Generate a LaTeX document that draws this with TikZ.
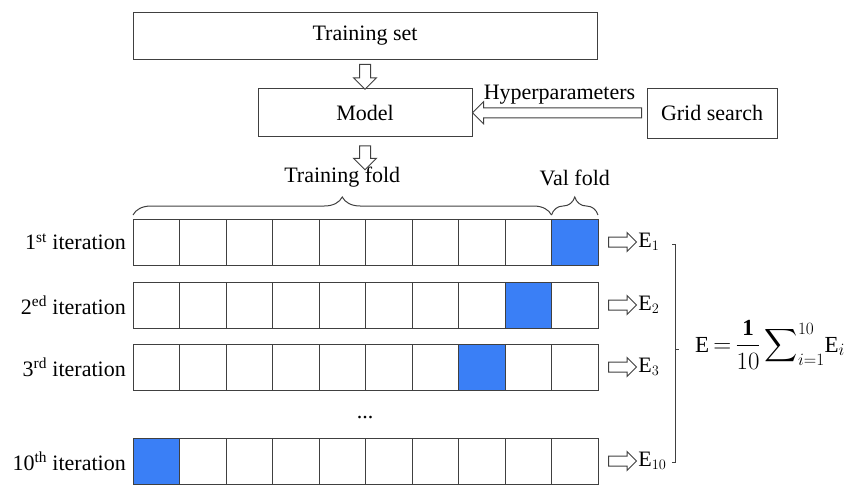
\documentclass[tikz,border=0pt]{standalone}
\usepackage{amsmath,amssymb}
\usepackage{fontspec}
\setmainfont{Liberation Serif}
\usepackage{tikz}
\usetikzlibrary{positioning,calc,shapes.arrows,decorations.pathreplacing}
\definecolor{valblue}{RGB}{58,127,246}

\begin{document}
\begin{tikzpicture}[x=1pt, y=-1pt,
  every node/.style={font=\rmfamily\fontsize{22}{26}\selectfont},
  box/.style={rectangle, draw=black!75, line width=1pt, inner sep=0pt},
  cell/.style={rectangle, draw=black!75, line width=1pt, inner sep=0pt,
               outer sep=0pt, minimum width=46.5pt, minimum height=46pt},
  lbl/.style={inner sep=1pt, text=black},
  harr/.style={single arrow, draw=black!75, line width=1pt, fill=white,
               inner xsep=0pt, inner ysep=5pt, single arrow head extend=6pt},
  brc/.style={decorate, decoration={brace, amplitude=18pt},
              draw=black!75, line width=1pt}]
  \useasboundingbox (0,0) rectangle (850,496);
  % top part
  \node[box, minimum width=464pt, minimum height=47pt] (TS) at (365,36) {Training set};
  \node[box, minimum width=214pt, minimum height=48pt] (M) at (365,112.5) {Model};
  \node[box, minimum width=130pt, minimum height=50pt] (GS) at (712,113) {Grid search};
  \node[harr, rotate=-90, minimum height=25pt] (a0) at ($(TS.south)!.5!(M.north)$) {};
  \node[harr, rotate=-90, minimum height=24pt] (a00) at ([yshift=-18pt]M.south) {};
  \node[harr, rotate=180, minimum height=169pt, inner ysep=4.5pt] (ah)
    at ($(M.east)!.5!(GS.west)$) {};
  \node[lbl] at ([yshift=18pt]ah.center) {Hyperparameters};
  % folds
  \foreach \rw/\y/\v/\k/\ord in {1/242/10/1/st, 2/305/9/2/ed, 3/367/8/3/rd, 10/461/1/10/th} {
    \foreach \i in {1,...,10} {
      \ifnum\i=\v \def\cf{valblue}\else\def\cf{white}\fi
      \node[cell, fill=\cf] (c\rw-\i) at (109.75+46.5*\i, \y) {};
    }
    \node[lbl, left=6pt of c\rw-1] {\k\textsuperscript{\ord} iteration};
    \node[harr, minimum height=28pt, inner ysep=4.5pt, single arrow head extend=4.5pt,
          right=10pt of c\rw-10] (a\rw) {};
    \node[lbl, right=0pt of a\rw] (E\rw) {$\mathrm{E}_{\k}$};
  }
  \node[lbl, anchor=base] (dots) at (365,418) {...};
  % braces
  \draw[brc] ([yshift=4pt]c1-1.north west) -- ([yshift=4pt]c1-9.north east);
  \draw[brc] ([yshift=4pt]c1-10.north west) -- ([yshift=4pt]c1-10.north east);
  \node[lbl, anchor=base] (TF) at ([yshift=37pt]$(c1-1.north west)!.5!(c1-9.north east)$) {Training fold};
  \node[lbl, anchor=base] (VF) at ([yshift=34pt]c1-10.north) {Val fold};
  % average
  \coordinate (bT) at (675,244);
  \coordinate (bB) at (675,462);
  \coordinate (bM) at (675,349);
  \draw[draw=black!75, line width=1pt] ([xshift=-3pt]bT) -- (bT) -- (bB) -- ([xshift=-3pt]bB);
  \draw[draw=black!75, line width=1pt] (bM) -- ([xshift=4pt]bM);
  \node[lbl, inner sep=0pt, anchor=base west, font=\rmfamily\fontsize{23}{27}\selectfont] (F)
    at ([xshift=20pt, yshift=-3pt]bM)
    {$\thickmuskip=3mu\displaystyle \mathrm{E}=\frac{\mathbf{1}}{10}\sum\nolimits_{i=1}^{10}\!\mathrm{E}_{i}$};
\end{tikzpicture}
\end{document}
